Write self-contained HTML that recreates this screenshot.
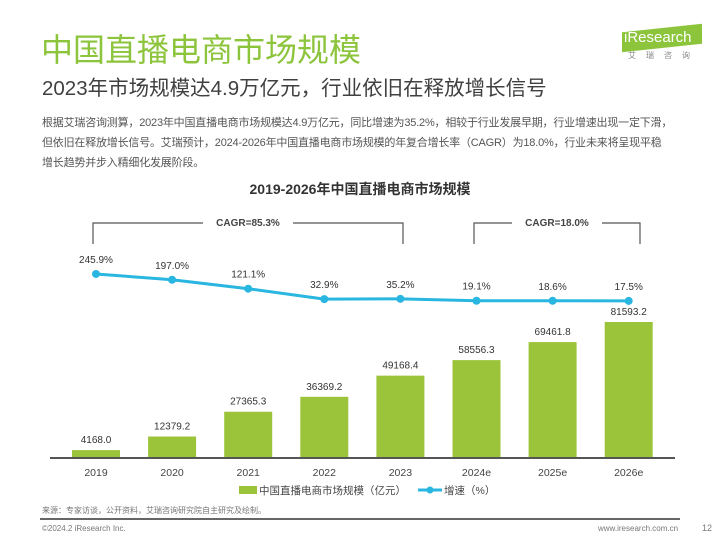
<!DOCTYPE html>
<html><head><meta charset="utf-8"><style>
body{margin:0;width:720px;height:540px;background:#fff;font-family:"Liberation Sans","Noto Sans CJK SC",sans-serif;position:relative;overflow:hidden}
.a{position:absolute;white-space:nowrap}
</style></head><body>
<div class="a" style="left:41px;top:25px;font-size:32px;color:#8cc43c">中国直播电商市场规模</div>
<div class="a" style="left:42px;top:71px;font-size:20.5px;color:#404040">2023年市场规模达4.9万亿元，行业依旧在释放增长信号</div>
<div class="a" style="left:42px;top:113px;font-size:11px;line-height:20px;color:#555;letter-spacing:-0.2px">根据艾瑞咨询测算，2023年中国直播电商市场规模达4.9万亿元，同比增速为35.2%，相较于行业发展早期，行业增速出现一定下滑，<br>但依旧在释放增长信号。艾瑞预计，2024-2026年中国直播电商市场规模的年复合增长率（CAGR）为18.0%，行业未来将呈现平稳<br>增长趋势并步入精细化发展阶段。</div>
<div class="a" style="left:622px;top:28px;width:80px;height:20px;background:#8cc43c;transform:skewY(-6deg)"></div>
<div class="a" style="left:624px;top:29px;font-size:15px;color:#fff">iResearch</div>
<div class="a" style="left:628px;top:50px;font-size:8px;color:#888;letter-spacing:10px">艾瑞咨询</div>
<div class="a" style="left:0;width:720px;text-align:center;top:179px;font-size:14px;font-weight:bold;color:#333">2019-2026年中国直播电商市场规模</div>
<svg class="a" style="left:0;top:0" width="720" height="540" id="chart"></svg>
<div class="a" style="left:42px;top:505px;font-size:8px;color:#777">来源：专家访谈，公开资料，艾瑞咨询研究院自主研究及绘制。</div>
<div class="a" style="left:40px;top:518px;width:640px;height:2px;background:#666"></div>
<div class="a" style="left:42px;top:524px;font-size:8px;color:#777">©2024.2 iResearch Inc.</div>
<div class="a" style="left:598px;top:524px;font-size:8px;color:#777">www.iresearch.com.cn</div>
<div class="a" style="left:702px;top:523px;font-size:9px;color:#777">12</div>
<script>
const categories=["2019","2020","2021","2022","2023","2024e","2025e","2026e"];
const marketSize=[4168.0,12379.2,27365.3,36369.2,49168.4,58556.3,69461.8,81593.2];
const growthRate=[245.9,197.0,121.1,32.9,35.2,19.1,18.6,17.5];
const svg=document.getElementById('chart');const NS='http://www.w3.org/2000/svg';
function mk(t,a,txt){const e=document.createElementNS(NS,t);for(const k in a)e.setAttribute(k,a[k]);if(txt!=null)e.textContent=txt;svg.appendChild(e);return e;}
const base=457,x0=96,step=76.1;
const xS=i=>x0+i*step;
const yBar=v=>base-v*135/81593.2;
const yLine=v=>303-v*0.118;
categories.forEach((c,i)=>{
 const x=xS(i),y=yBar(marketSize[i]);
 const r=mk('rect',{x:x-24,y:y,width:48,height:base-y,fill:'#9cc43a'});
 
 
 const t=mk('text',{x:x,y:y-7,'text-anchor':'middle','font-size':10,fill:'#333'},marketSize[i].toFixed(1));
 
 
 const xl=mk('text',{x:x,y:476,'text-anchor':'middle','font-size':10.5,fill:'#444'},c);
 
 
});
const ax=mk('line',{x1:50,x2:675,y1:base+1,y2:base+1,stroke:'#555','stroke-width':2});


const pts=growthRate.map((v,i)=>xS(i)+','+yLine(v)).join(' ');
const pl=mk('polyline',{points:pts,fill:'none',stroke:'#29b6e0','stroke-width':3});


growthRate.forEach((v,i)=>{
 const c=mk('circle',{cx:xS(i),cy:yLine(v),r:4,fill:'#29b6e0'});
 
 
 const t=mk('text',{x:xS(i),y:yLine(v)-11,'text-anchor':'middle','font-size':10,fill:'#333'},v.toFixed(1)+'%');
 
 
});
function bracket(x1,x2,label,name){
 const p=mk('path',{d:`M${x1},244 V223 H${(x1+x2)/2-45} M${(x1+x2)/2+45},223 H${x2} V244`,fill:'none',stroke:'#555','stroke-width':1.2});
 
 
 const t=mk('text',{x:(x1+x2)/2,y:226,'text-anchor':'middle','font-size':10,'font-weight':'bold',fill:'#444'},label);
 
 
}
bracket(93,403,'CAGR=85.3%','cagr-bracket-hist');
bracket(474,640,'CAGR=18.0%','cagr-bracket-forecast');
const lr=mk('rect',{x:239,y:486,width:18,height:8,fill:'#9cc43a'});


const lt=mk('text',{x:259,y:494,'font-size':10.5,fill:'#444'},'中国直播电商市场规模（亿元）');


const ll=mk('line',{x1:418,x2:442,y1:490,y2:490,stroke:'#29b6e0','stroke-width':3});


const lc=mk('circle',{cx:430,cy:490,r:3.5,fill:'#29b6e0'});


const lt2=mk('text',{x:444,y:494,'font-size':10.5,fill:'#444'},'增速（%）');


</script>
</body></html>
